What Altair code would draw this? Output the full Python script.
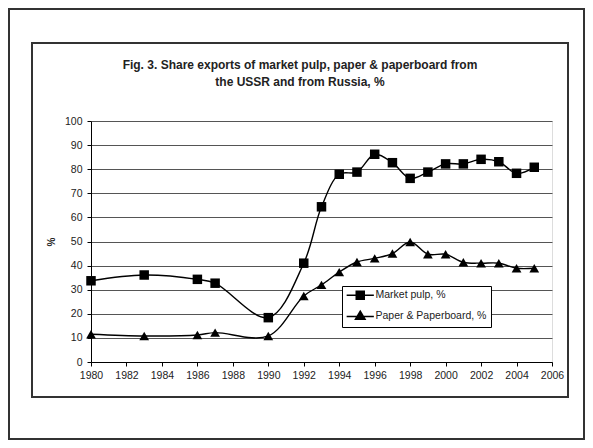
import altair as alt
import pandas as pd

years = [1980, 1983, 1986, 1987, 1990, 1992, 1993, 1994, 1995, 1996, 1997,
         1998, 1999, 2000, 2001, 2002, 2003, 2004, 2005]
pulp = [33.7, 36.1, 34.3, 32.7, 18.4, 41.0, 64.4, 77.9, 78.8, 86.2, 82.7,
        76.2, 78.8, 82.2, 82.2, 84.1, 83.1, 78.3, 80.8]
paper = [11.5, 10.8, 11.2, 12.2, 10.8, 27.4, 32.0, 37.3, 41.5, 43.0, 45.0,
         49.8, 44.7, 44.7, 41.4, 41.0, 41.0, 38.9, 38.9]
series_names = ["Market pulp, %", "Paper & Paperboard, %"]
x_ticks = list(range(1980, 2007, 2))
y_ticks = list(range(0, 101, 10))
title_lines = ["Fig. 3. Share exports of market pulp, paper & paperboard from",
               "the USSR and from Russia, %"]

rows = []
for y, v in zip(years, pulp):
    rows.append({"year": y, "value": v, "series": series_names[0]})
for y, v in zip(years, paper):
    rows.append({"year": y, "value": v, "series": series_names[1]})
df = pd.DataFrame(rows)

FONT = "Liberation Sans"

x_enc = alt.X("year:Q", scale=alt.Scale(domain=[1980, 2006], nice=False, zero=False),
              axis=alt.Axis(values=x_ticks, format="d", title=None, grid=False,
                            tickSize=4, labelPadding=4, domainColor="black",
                            tickColor="black", labelFontSize=10.5, labelColor="#222",
                            labelFlush=False, labelOverlap=False))
y_enc = alt.Y("value:Q", scale=alt.Scale(domain=[0, 100], nice=False),
              axis=alt.Axis(values=y_ticks, title="%", grid=True, gridColor="#555",
                            gridWidth=1, tickSize=4, labelPadding=5,
                            domainColor="black", tickColor="black",
                            labelFontSize=10.5, labelColor="#222",
                            titleFontSize=10, titleFontWeight="bold",
                            titlePadding=8, titleColor="#222", labelFlush=False))

lines = alt.Chart(df).mark_line(interpolate="catmull-rom", strokeWidth=1.4).encode(
    x=x_enc, y=y_enc,
    detail="series:N",
    color=alt.value("black"),
)

pts_pulp = alt.Chart(df).transform_filter(
    alt.datum.series == series_names[0]).mark_point(
    filled=True, opacity=1, color="black", shape="square", size=90).encode(
    x=x_enc, y=y_enc)
pts_paper = alt.Chart(df).transform_filter(
    alt.datum.series == series_names[1]).mark_point(
    filled=True, opacity=1, color="black", shape="triangle-up", size=95).encode(
    x=x_enc, y=y_enc)

# legend-only layer: stroked symbol paths = a line with the (solid) marker on it
path_pulp = ("M-3.4,0H3.4M-1,-1H1M-1,-0.7H1M-1,-0.4H1M-1,-0.1H1"
             "M-1,0.2H1M-1,0.5H1M-1,0.8H1M-1,1H1M-1,-1H1V1H-1Z")
path_paper = ("M-3.4,0.2H3.4M0,-1.15L1.2,0.9H-1.2Z"
              "M-0.18,-0.85H0.18M-0.35,-0.55H0.35M-0.53,-0.25H0.53"
              "M-0.7,0.05H0.7M-0.88,0.35H0.88M-1.05,0.65H1.05M-1.2,0.9H1.2")
legend_layer = alt.Chart(df).transform_filter("false").mark_point(
    filled=False, color="black", strokeWidth=1.5, opacity=1).encode(
    x=x_enc, y=y_enc,
    shape=alt.Shape("series:N",
                    scale=alt.Scale(domain=series_names, range=[path_pulp, path_paper]),
                    legend=alt.Legend(
                        title=None, orient="none", legendX=251, legendY=165,
                        fillColor="white", strokeColor="black", padding=4,
                        symbolSize=64, symbolOffset=9, labelOffset=10,
                        rowPadding=4.5, labelFontSize=10.5, labelColor="#222",
                        labelFont=FONT,
                        symbolStrokeColor="black", symbolStrokeWidth=1.5,
                        symbolOpacity=1)),
)

one = alt.Data(values=[{"k": 1}])
inner_frame = alt.Chart(one).mark_rect(
    filled=False, stroke="#333", strokeWidth=2).encode(
    x=alt.value(-59), x2=alt.value(477), y=alt.value(-78), y2=alt.value(276))
outer_frame = alt.Chart(one).mark_rect(
    filled=False, stroke="#333", strokeWidth=2).encode(
    x=alt.value(-82), x2=alt.value(493), y=alt.value(-112), y2=alt.value(318))
title = alt.Chart(one).mark_text(
    font=FONT, fontSize=12, fontWeight="bold", color="#222", lineHeight=17,
    align="center", baseline="middle").encode(
    x=alt.value(209), y=alt.value(-56), text=alt.value(title_lines))

chart = alt.layer(outer_frame, inner_frame, title, lines, pts_pulp, pts_paper,
                  legend_layer).properties(
    width=461, height=241,
    padding={"left": 83, "top": 113, "right": 33, "bottom": 78},
    autosize=alt.AutoSizeParams(type="none"),
).configure_view(stroke=None).configure(
    font=FONT, background="white"
).configure_axis(labelFont=FONT, titleFont=FONT)

chart.save("out.html", embed_options={"renderer": "svg", "actions": False})
